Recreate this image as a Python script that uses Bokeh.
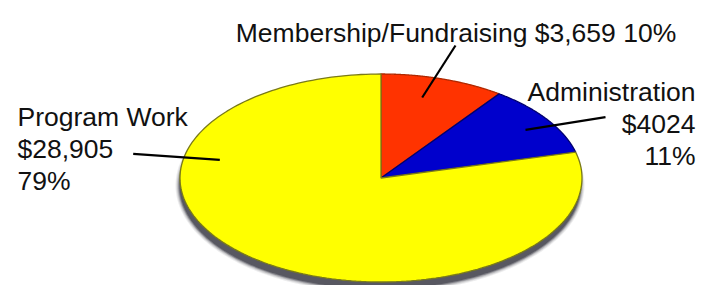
import numpy as np
from bokeh.plotting import figure
from bokeh.models import Range1d, ColumnDataSource
from bokeh.core.properties import value
from bokeh.embed import file_html
from bokeh.resources import INLINE

# ---- data ----
categories = ["Membership/Fundraising", "Administration", "Program Work"]
amounts = [3659, 4024, 28905]
amount_labels = ["$3,659", "$4024", "$28,905"]
percent_labels = ["10%", "11%", "79%"]
colors = ["#FF3300", "#0000CC", "#FFFF00"]
edge_colors = ["#B02800", "#000070", "#7A7A18"]

# ---- layout (image pixel coordinates, y down) ----
W, H = 698, 285
CX, CY = 380.5, 177.5
RX, RY = 201.0, 104.0

p = figure(width=W, height=H, output_backend="svg", toolbar_location=None,
           x_range=Range1d(0, W), y_range=Range1d(H, 0),
           min_border=0)
p.axis.visible = False
p.grid.visible = False
p.outline_line_color = None
p.background_fill_color = "white"


def ell_pts(a0, a1, rx, ry, cx, cy, n=200, center=True):
    t = np.linspace(a0, a1, n)
    xs = list(cx + rx * np.sin(t))
    ys = list(cy - ry * np.cos(t))
    if center:
        xs = [cx] + xs
        ys = [cy] + ys
    return xs, ys

# shadow (soft)
sh_dx, sh_dy = -1.0, 7.5
for k, a in [(3.5, 0.10), (2.5, 0.15), (1.5, 0.25), (0.5, 0.5), (-0.5, 0.8)]:
    xs, ys = ell_pts(0, 2 * np.pi, RX + k, RY + k, CX + sh_dx, CY + sh_dy, n=300, center=False)
    p.patch(xs, ys, fill_color="#4E4E58", fill_alpha=a, line_color=None)

# pie wedges (clockwise from top)
total = float(sum(amounts))
fr = np.cumsum([0.0] + [v / total for v in amounts])
wx, wy = [], []
for i in range(len(amounts)):
    xs, ys = ell_pts(2 * np.pi * fr[i], 2 * np.pi * fr[i + 1], RX, RY, CX, CY)
    wx.append(xs)
    wy.append(ys)
src = ColumnDataSource(dict(xs=wx, ys=wy, fc=colors, lc=edge_colors))
p.patches("xs", "ys", source=src, fill_color="fc", line_color="lc", line_width=1.3)

# leader lines
lead_x = [[455, 421.7], [605, 525], [132.7, 219.3]]
lead_y = [[45, 97], [116.7, 129.3], [153.3, 159.3]]
p.multi_line(lead_x, lead_y, line_color="black", line_width=2.2)

font = value("Liberation Sans")
fs = "26.5px"
# Membership label (single line)
p.text(x=[455.5], y=[32], text=[f"{categories[0]} {amount_labels[0]} {percent_labels[0]}"],
       text_font=font, text_font_size=fs, text_align="center", text_baseline="alphabetic",
       text_color="#111111")
# Administration (right aligned, 3 lines)
p.text(x=[695, 695, 695], y=[91, 123, 155],
       text=[categories[1], amount_labels[1], percent_labels[1]],
       text_font=font, text_font_size=fs, text_align="right", text_baseline="alphabetic",
       text_color="#111111")
# Program Work (left aligned, 3 lines)
p.text(x=[17, 17, 17], y=[116, 148, 180],
       text=[categories[2], amount_labels[2], percent_labels[2]],
       text_font=font, text_font_size=fs, text_align="left", text_baseline="alphabetic",
       text_color="#111111")

open("out.html", "w").write(file_html(p, INLINE))
